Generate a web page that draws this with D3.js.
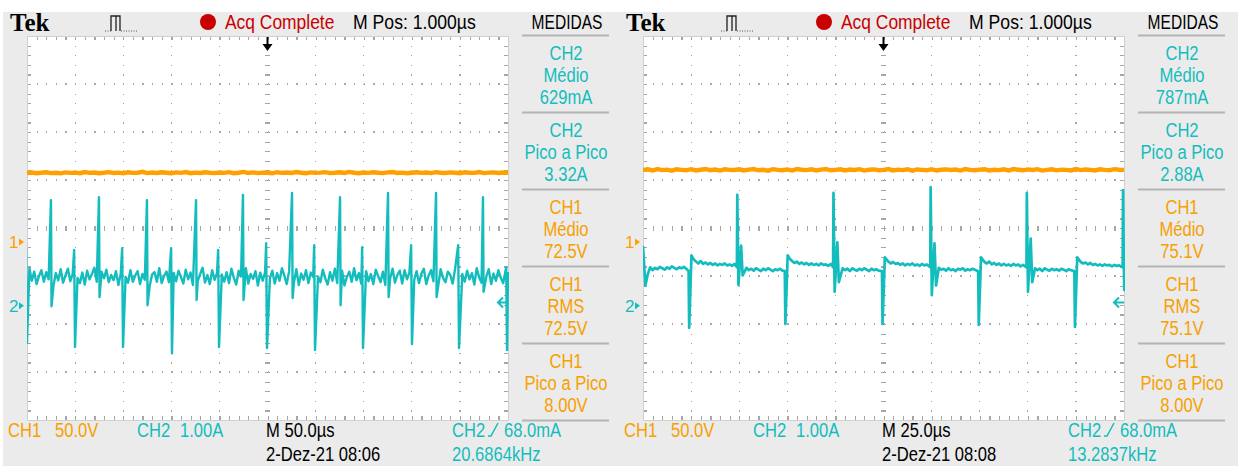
<!DOCTYPE html>
<html><head><meta charset="utf-8">
<script src="https://cdn.jsdelivr.net/npm/d3@7"></script>
<style>body{margin:0;background:#fff}svg{display:block}</style>
</head><body>
<svg id="c" width="1238" height="466"></svg>
<script>
// ---------------- DATA ----------------
const panelTimeDomains = [[-250, 250], [-125, 125]];          // µs, 10 divisions
const ch1VoltsPerDiv = 50, ch2AmpsPerDiv = 1;
const ch1PositionDiv = -0.29, ch2PositionDiv = -1.619;         // ground markers (div from centre)
const triggerLevelA = 0.068;

// Left screen (50 µs/div), CH2 baseline sampled every 2.5 µs from -250 µs
const leftCh2Base = [
0.64,0.78,0.52,0.71,0.45,0.62,0.74,0.50,0.70,0.55,0.66,0.42,0.68,0.53,0.76,0.48,0.63,0.77,0.51,0.66,
0.82,0.58,0.47,0.69,0.44,0.73,0.55,0.66,0.79,0.50,0.46,0.71,0.57,0.75,0.49,0.64,0.53,0.72,0.43,0.67,
0.80,0.60,0.48,0.74,0.50,0.63,0.72,0.45,0.66,0.54,0.76,0.41,0.65,0.70,0.50,0.78,0.47,0.62,0.71,0.49,
0.79,0.68,0.51,0.73,0.60,0.46,0.75,0.55,0.69,0.43,0.72,0.52,0.66,0.79,0.48,0.64,0.45,0.74,0.54,0.67,
0.83,0.65,0.50,0.70,0.47,0.77,0.58,0.44,0.73,0.61,0.49,0.78,0.46,0.66,0.56,0.72,0.42,0.69,0.52,0.70,
0.80,0.57,0.73,0.46,0.68,0.52,0.78,0.63,0.45,0.72,0.58,0.49,0.76,0.43,0.67,0.54,0.74,0.47,0.69,0.60,
0.81,0.61,0.49,0.75,0.57,0.44,0.70,0.52,0.77,0.47,0.66,0.73,0.42,0.60,0.71,0.50,0.78,0.53,0.68,0.46,
0.79,0.72,0.51,0.66,0.45,0.75,0.62,0.49,0.71,0.43,0.68,0.57,0.77,0.48,0.64,0.73,0.46,0.74,0.55,0.69,
0.82,0.54,0.72,0.47,0.67,0.77,0.45,0.63,0.74,0.51,0.69,0.42,0.76,0.58,0.49,0.71,0.64,0.46,0.77,0.57,
0.80,0.66,0.50,0.73,0.55,0.68,0.44,0.78,0.59,0.48,0.72,0.61,0.76,0.45,0.67,0.52,0.74,0.58,0.47,0.69,
0.70];
// [time µs, peak A, dip A]
const leftUpSpikes = [
[-225.1,2.20,-0.01],[-175.2,2.26,0.18],[-125.3,2.20,0.01],[-74.3,2.20,0.12],[-25.5,2.31,0.12],
[25.5,2.35,0.16],[75.4,2.26,0.01],[125.3,2.35,0.18],[175.2,2.35,0.18],[224.0,2.26,0.29]];
// [time µs, bump A, low A]
const leftDownSpikes = [
[-250.0,1.20,-0.78],[-200.1,1.16,-0.86],[-150.2,1.20,-0.86],[-99.3,1.20,-0.99],[-50.4,1.16,-0.86],
[-0.5,1.30,-0.88],[49.4,1.26,-0.92],[99.3,1.22,-0.88],[150.2,1.26,-0.80],[199.1,1.26,-0.88],[249.0,0.80,-0.92]];
// CH1 sampled every 5 µs from -250 µs (V)
const leftCh1 = [
71.8,72.3,71.5,72.0,72.6,71.7,72.1,71.4,72.4,71.9,72.2,71.6,72.8,71.9,72.3,71.5,72.0,72.7,71.8,72.2,
71.6,72.5,71.9,72.1,73.0,71.7,72.3,71.8,72.6,72.0,71.5,72.4,71.9,72.8,71.6,72.2,71.8,72.5,72.0,71.7,
72.3,71.9,72.7,71.6,72.1,72.9,71.8,72.4,71.7,72.2,72.0,71.5,72.6,71.9,72.3,71.8,72.8,72.1,71.6,72.4,
71.9,72.2,72.7,71.7,72.0,72.5,71.8,72.9,72.1,71.6,72.3,71.9,72.6,72.0,71.7,72.4,72.8,71.8,72.2,71.5,
72.1,72.6,71.9,72.3,71.7,72.7,72.0,71.8,72.4,72.1,71.6,72.5,72.0,71.9,72.8,71.7,72.2,72.4,71.8,72.3,
72.0];

// Right screen (25 µs/div), CH2 baseline sampled every 1.25 µs from -125 µs
const rightCh2Base = [
1.25,0.42,0.66,0.80,0.74,0.79,0.76,0.81,0.78,0.75,0.80,0.77,0.82,0.79,0.76,0.80,0.78,0.81,0.77,0.79,
1.02,0.97,0.92,0.88,0.93,0.87,0.90,0.86,0.89,0.85,0.88,0.84,0.87,0.85,0.88,0.84,0.86,0.83,0.87,0.85,
0.74,0.80,0.76,0.79,0.74,0.77,0.73,0.78,0.75,0.72,0.77,0.74,0.78,0.75,0.72,0.76,0.74,0.77,0.73,0.75,
1.03,0.98,0.93,0.89,0.92,0.87,0.90,0.86,0.89,0.85,0.88,0.85,0.87,0.84,0.88,0.85,0.86,0.83,0.87,0.84,
0.73,0.79,0.75,0.78,0.74,0.77,0.72,0.78,0.75,0.73,0.77,0.74,0.78,0.75,0.72,0.77,0.74,0.76,0.73,0.75,
1.02,0.97,0.92,0.88,0.91,0.87,0.89,0.85,0.88,0.84,0.87,0.85,0.88,0.84,0.86,0.83,0.87,0.84,0.86,0.83,
0.74,0.80,0.76,0.79,0.75,0.77,0.73,0.78,0.74,0.76,0.72,0.77,0.75,0.78,0.73,0.76,0.74,0.77,0.75,0.74,
1.04,0.96,0.91,0.88,0.92,0.86,0.89,0.85,0.88,0.84,0.87,0.84,0.86,0.83,0.87,0.84,0.86,0.82,0.85,0.83,
0.73,0.79,0.75,0.78,0.74,0.77,0.72,0.78,0.75,0.73,0.77,0.74,0.76,0.73,0.77,0.75,0.72,0.76,0.74,0.75,
1.02,0.95,0.91,0.88,0.90,0.86,0.89,0.85,0.87,0.84,0.86,0.83,0.86,0.84,0.85,0.82,0.85,0.83,0.84,0.82,
0.33];
// [time µs, peak A, dip A, secondary A]
const rightUpSpikes = [
[-76.0,2.31,0.43,1.25],[-26.0,2.35,0.29,1.32],[24.5,2.47,0.22,1.30],[74.5,2.35,0.29,1.40],[124.5,2.41,0.33,0.33]];
// [time µs, low A, bump A]
const rightDownSpikes = [
[-101.0,-0.46,1.05],[-51.0,-0.38,1.05],[-0.5,-0.38,1.01],[49.5,-0.40,1.01],[99.5,-0.44,1.01]];
// CH1 sampled every 2.5 µs from -125 µs (V)
const rightCh1 = [
75.0,75.6,74.4,75.9,74.8,75.3,74.2,75.7,75.1,74.6,75.8,74.5,75.2,76.0,74.7,75.4,74.3,75.6,75.0,74.9,
75.7,74.4,75.3,75.9,74.6,75.1,74.2,75.8,75.0,74.7,75.5,74.3,75.9,75.2,74.8,75.6,74.5,75.3,76.0,74.6,
75.1,75.7,74.4,75.4,74.9,75.8,74.3,75.2,75.6,74.7,75.0,75.9,74.5,75.3,74.8,75.7,74.2,75.5,75.1,74.6,
75.8,74.4,75.2,75.6,74.9,75.4,74.3,75.9,75.0,74.7,75.3,75.7,74.5,75.1,74.8,75.6,74.4,75.9,75.2,74.6,
75.5,74.9,75.8,74.3,75.1,75.7,74.6,75.3,75.0,74.5,75.9,74.8,75.4,75.1,74.4,75.6,75.0,74.7,75.8,75.2,
75.0];

const measureChannels = ["CH2","CH2","CH1","CH1","CH1"];
const measureNames = ["Médio","Pico a Pico","Médio","RMS","Pico a Pico"];
const leftMeasureValues = ["629mA","3.32A","72.5V","72.5V","8.00V"];
const rightMeasureValues = ["787mA","2.88A","75.1V","75.1V","8.00V"];
const timebaseLabels = ["M 50.0µs","M 25.0µs"];
const dateLabels = ["2-Dez-21 08:06","2-Dez-21 08:08"];
const freqLabels = ["20.6864kHz","13.2837kHz"];
const ch1ScaleLabel = "50.0V", ch2ScaleLabel = "1.00A", triggerLabel = "68.0mA";

// ---------------- DRAWING ----------------
const CYAN = "#14bdbd", ORANGE = "#ffa000", TXT_OR = "#f7a000", GRID = "#a6a6a6";
const FONT = "'Liberation Sans',Arial,sans-serif";
const svg = d3.select("#c");
svg.append("rect").attr("x",3).attr("y",12).attr("width",1235).attr("height",454).attr("fill","#ebebeb");

function text(g, x, y, s, color, opt={}) {
  const sx = opt.sx === undefined ? 0.79 : opt.sx;
  return g.append("text").attr("transform",`translate(${x},${y}) scale(${sx},1)`).text(s).attr("fill",color)
    .attr("font-family", opt.family || FONT).attr("font-size", opt.size || 21)
    .attr("font-weight", opt.weight || "normal").attr("text-anchor", opt.anchor || "start");
}

function buildCh2(base, t0, dt, ups, downs, upShape, downShape, upWin, downWin) {
  const pts = [];
  base.forEach((v,i) => {
    const t = t0 + i*dt;
    const near = ups.some(s => t > s[0]-upWin[0] && t < s[0]+upWin[1]) ||
                 downs.some(s => t > s[0]-downWin[0] && t < s[0]+downWin[1]);
    if (!near) pts.push([t, v]);
  });
  ups.forEach(s => upShape(s).forEach(p => pts.push(p)));
  downs.forEach(s => downShape(s).forEach(p => pts.push(p)));
  pts.sort((a,b) => a[0]-b[0]);
  return pts;
}

function drawPanel(idx) {
  const ox = idx*616;
  const g = svg.append("g");
  const X0 = 27+ox, Y0 = 36, W = 481, H = 384;
  const x = d3.scaleLinear().domain(panelTimeDomains[idx]).range([X0, X0+W]);
  const y1 = d3.scaleLinear().domain([(-4-ch1PositionDiv)*ch1VoltsPerDiv, (4-ch1PositionDiv)*ch1VoltsPerDiv]).range([Y0+H, Y0]);
  const y2 = d3.scaleLinear().domain([(-4-ch2PositionDiv)*ch2AmpsPerDiv, (4-ch2PositionDiv)*ch2AmpsPerDiv]).range([Y0+H, Y0]);

  g.append("rect").attr("x",X0).attr("y",Y0).attr("width",W).attr("height",H).attr("fill","#fff");
  const gx = W/10, gy = H/8;
  const grid = g.append("g").attr("stroke",GRID).attr("shape-rendering","crispEdges");
  for (let k=1;k<10;k++) if (k!==5)
    grid.append("line").attr("x1",X0+k*gx).attr("x2",X0+k*gx).attr("y1",Y0).attr("y2",Y0+H)
      .attr("stroke-width",1.2).attr("stroke-dasharray",`1.2 ${gy/5-1.2}`);
  for (let k=1;k<8;k++) if (k!==4)
    grid.append("line").attr("y1",Y0+k*gy).attr("y2",Y0+k*gy).attr("x1",X0).attr("x2",X0+W)
      .attr("stroke-width",1.2).attr("stroke-dasharray",`1.2 ${gx/5-1.2}`);
  grid.append("line").attr("x1",X0+5*gx).attr("x2",X0+5*gx).attr("y1",Y0).attr("y2",Y0+H)
    .attr("stroke-width",5).attr("stroke-dasharray",`1.2 ${gy/5-1.2}`);
  grid.append("line").attr("y1",Y0+4*gy).attr("y2",Y0+4*gy).attr("x1",X0).attr("x2",X0+W)
    .attr("stroke-width",5).attr("stroke-dasharray",`1.2 ${gx/5-1.2}`);
  [[X0+2,X0+2,Y0,Y0+H,gy],[X0+W-2,X0+W-2,Y0,Y0+H,gy]].forEach(d =>
    grid.append("line").attr("x1",d[0]).attr("x2",d[1]).attr("y1",d[2]).attr("y2",d[3])
      .attr("stroke-width",4).attr("stroke-dasharray",`1.2 ${d[4]/5-1.2}`));
  [[Y0+2],[Y0+H-2]].forEach(d =>
    grid.append("line").attr("y1",d[0]).attr("y2",d[0]).attr("x1",X0).attr("x2",X0+W)
      .attr("stroke-width",4).attr("stroke-dasharray",`1.2 ${gx/5-1.2}`));
  grid.append("rect").attr("x",X0).attr("y",Y0).attr("width",W).attr("height",H)
    .attr("fill","none").attr("stroke","#d0d0d0").attr("stroke-width",1);

  const cid = "clip"+idx;
  g.append("clipPath").attr("id",cid).append("rect").attr("x",X0).attr("y",Y0).attr("width",W+1).attr("height",H);
  const tr = g.append("g").attr("clip-path",`url(#${cid})`);

  // CH1 trace
  const ch1 = idx===0 ? leftCh1 : rightCh1;
  const dt1 = (panelTimeDomains[idx][1]-panelTimeDomains[idx][0])/(ch1.length-1);
  tr.append("path").datum(ch1.map((v,i)=>[panelTimeDomains[idx][0]+i*dt1, v]))
    .attr("d", d3.line().x(d=>x(d[0])).y(d=>y1(d[1])))
    .attr("fill","none").attr("stroke",ORANGE).attr("stroke-width",4.4).attr("stroke-linejoin","miter");

  // CH2 trace
  let pts;
  if (idx===0) {
    pts = buildCh2(leftCh2Base, -250, 2.5, leftUpSpikes, leftDownSpikes,
      s => [[s[0], s[1]], [s[0]+0.6, s[2]]],
      s => [[s[0]-0.9, s[1]], [s[0], s[2]]],
      [1.0, 1.6], [1.8, 1.0]);
  } else {
    pts = buildCh2(rightCh2Base, -125, 1.25, rightUpSpikes, rightDownSpikes,
      s => [[s[0]-0.2, 0.80], [s[0], s[1]], [s[0]+0.6, s[2]], [s[0]+2.0, s[3]], [s[0]+2.8, s[2]+0.2]],
      s => [[s[0]-0.3, 0.72], [s[0], s[1]], [s[0]+1.2, s[2]]],
      [0.9, 4.2], [0.8, 2.0]);
  }
  tr.append("path").datum(pts).attr("d", d3.line().x(d=>x(d[0])).y(d=>y2(d[1])))
    .attr("fill","none").attr("stroke",CYAN).attr("stroke-width",idx===0?2.4:2.7).attr("stroke-linejoin","round");

  // ground markers
  const m1 = y1(0), m2 = y2(0);
  text(g, 9+ox, m1+6, "1", ORANGE, {size:17, sx:1});
  g.append("path").attr("d",`M${19+ox},${m1-3.5} L${24+ox},${m1} L${19+ox},${m1+3.5} Z`).attr("fill",ORANGE);
  text(g, 9+ox, m2+6, "2", CYAN, {size:17, sx:1});
  g.append("path").attr("d",`M${19+ox},${m2-3.5} L${24+ox},${m2} L${19+ox},${m2+3.5} Z`).attr("fill",CYAN);
  // trigger level arrow
  const ty = y2(triggerLevelA);
  g.append("path").attr("d",`M${X0+W},${ty} H${X0+W-10} M${X0+W-5},${ty-5} L${X0+W-10},${ty} L${X0+W-5},${ty+5}`)
    .attr("fill","none").attr("stroke",CYAN).attr("stroke-width",2);
  // trigger position arrow
  const tx = X0+W/2;
  g.append("path").attr("d",`M${tx},${Y0+1} V${Y0+9}`).attr("stroke","#000").attr("stroke-width",2);
  g.append("path").attr("d",`M${tx-5},${Y0+8} L${tx+5},${Y0+8} L${tx},${Y0+15} Z`).attr("fill","#000");

  // header
  text(g, 10+ox, 31, "Tek", "#000", {family:"'Liberation Serif','DejaVu Serif',serif", size:25, weight:"bold", sx:1});
  g.append("path").attr("d",`M${105+ox},31 H${111+ox}`).attr("stroke","#555").attr("stroke-dasharray","1 1.5").attr("stroke-width",1.2);
  g.append("path").attr("d",`M${111+ox},31 V16 H${120+ox} V31 M${116+ox},16 V31`).attr("fill","none").attr("stroke","#222").attr("stroke-width",1.3);
  g.append("path").attr("d",`M${121+ox},31 H${137+ox}`).attr("stroke","#555").attr("stroke-dasharray","1 1.5").attr("stroke-width",1.2);
  g.append("circle").attr("cx",208+ox).attr("cy",22).attr("r",8).attr("fill","#c80000");
  text(g, 225+ox, 29, "Acq Complete", "#c80000", {sx:0.83});
  text(g, 353+ox, 29, "M Pos: 1.000µs", "#000", {sx:0.84});
  text(g, 567+ox, 29, "MEDIDAS", "#000", {anchor:"middle", sx:0.74});

  // measurements
  const vals = idx===0 ? leftMeasureValues : rightMeasureValues;
  for (let i=0;i<=5;i++)
    g.append("line").attr("x1",522+ox).attr("x2",609+ox).attr("y1",35.5+77*i).attr("y2",35.5+77*i)
      .attr("stroke","#b4b4b4").attr("stroke-width",2);
  measureChannels.forEach((ch,i) => {
    const col = ch==="CH2" ? CYAN : TXT_OR, top = 36+77*i;
    text(g, 566+ox, top+24, ch, col, {anchor:"middle"});
    text(g, 566+ox, top+46, measureNames[i], col, {anchor:"middle"});
    text(g, 566+ox, top+68, vals[i], col, {anchor:"middle"});
  });

  // footer
  text(g, 8+ox, 437, "CH1", TXT_OR);
  text(g, 55+ox, 437, ch1ScaleLabel, TXT_OR);
  text(g, 137+ox, 437, "CH2", CYAN);
  text(g, 180+ox, 437, ch2ScaleLabel, CYAN);
  text(g, 266+ox, 437, timebaseLabels[idx], "#000");
  text(g, 266+ox, 461, dateLabels[idx], "#000");
  text(g, 452+ox, 437, "CH2", CYAN);
  g.append("path").attr("d",`M${488+ox},436 H${491+ox} L${498+ox},423`).attr("fill","none").attr("stroke",CYAN).attr("stroke-width",1.5);
  text(g, 504+ox, 437, triggerLabel, CYAN);
  text(g, 452+ox, 461, freqLabels[idx], CYAN);
}
drawPanel(0);
drawPanel(1);
</script>
</body></html>
